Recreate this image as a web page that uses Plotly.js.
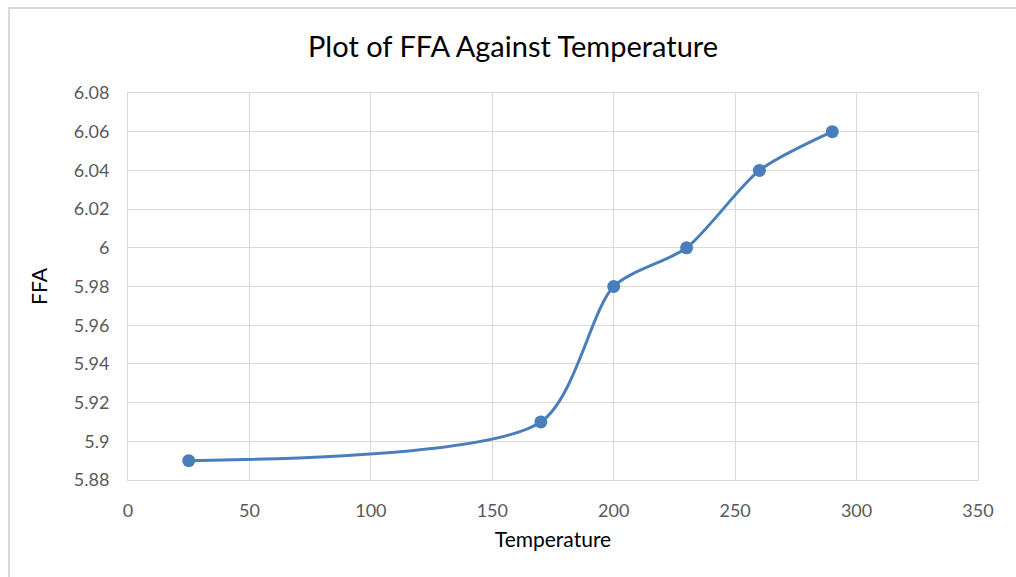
<!DOCTYPE html>
<html>
<head>
<meta charset="utf-8">
<script src="https://cdn.plot.ly/plotly-3.0.1.min.js"></script>
<style>
  html, body { margin: 0; padding: 0; background: #ffffff; }
  #wrap { position: relative; width: 1016px; height: 577px; overflow: hidden; }
  #chart { position: absolute; left: 0; top: 0; width: 1016px; height: 577px; }
  #frame { position: absolute; left: 8px; top: 7px; width: 1100px; height: 700px;
           border-left: 2px solid #d9d9d9; border-top: 2px solid #d9d9d9; pointer-events: none; }
</style>
</head>
<body>
<div id="wrap">
  <div id="chart"></div>
  <div id="frame"></div>
</div>
<script>
const temperature = [25, 170, 200, 230, 260, 290];
const ffa = [5.89, 5.91, 5.98, 6.00, 6.04, 6.06];

const yTickVals = [5.88, 5.90, 5.92, 5.94, 5.96, 5.98, 6.00, 6.02, 6.04, 6.06, 6.08];
const yTickText = ["5.88", "5.9", "5.92", "5.94", "5.96", "5.98", "6", "6.02", "6.04", "6.06", "6.08"];
const xTickVals = [0, 50, 100, 150, 200, 250, 300, 350];

const fontFam = "Lato, 'Open Sans', sans-serif";

const trace = {
  x: temperature,
  y: ffa,
  type: "scatter",
  mode: "lines+markers",
  line: { shape: "spline", smoothing: 0.75, color: "#4a7ebb", width: 3 },
  marker: { size: 13, color: "#4a7ebb" },
  hoverinfo: "x+y"
};

const layout = {
  width: 1016,
  height: 577,
  margin: { l: 128, r: 38, t: 93, b: 97 },
  paper_bgcolor: "rgba(0,0,0,0)",
  plot_bgcolor: "#ffffff",
  showlegend: false,
  title: {
    text: "Plot of FFA Against Temperature",
    font: { family: fontFam, size: 29, color: "#000000" },
    x: 0.505, xanchor: "center",
    y: 0.918, yanchor: "middle", yref: "container"
  },
  xaxis: {
    range: [0, 350],
    tickvals: xTickVals,
    ticktext: xTickVals.map(String),
    showgrid: true,
    gridcolor: "#d9d9d9",
    gridwidth: 1,
    zeroline: false,
    showline: true,
    linecolor: "#d9d9d9",
    linewidth: 1,
    mirror: true,
    ticks: "",
    ticklabelstandoff: 14,
    tickfont: { family: fontFam, size: 18, color: "#595959" },
    title: { text: "Temperature", font: { family: fontFam, size: 21, color: "#000000" }, standoff: 12 },
    fixedrange: true
  },
  yaxis: {
    range: [5.88, 6.08],
    tickvals: yTickVals,
    ticktext: yTickText,
    showgrid: true,
    gridcolor: "#d9d9d9",
    gridwidth: 1,
    zeroline: false,
    showline: true,
    linecolor: "#d9d9d9",
    linewidth: 1,
    mirror: true,
    ticks: "",
    ticklabelstandoff: 14,
    tickfont: { family: fontFam, size: 18, color: "#595959" },
    title: { text: "FFA", font: { family: fontFam, size: 21, color: "#000000" }, standoff: 20 },
    fixedrange: true
  }
};

Plotly.newPlot("chart", [trace], layout, { displayModeBar: false, staticPlot: false });
</script>
</body>
</html>
